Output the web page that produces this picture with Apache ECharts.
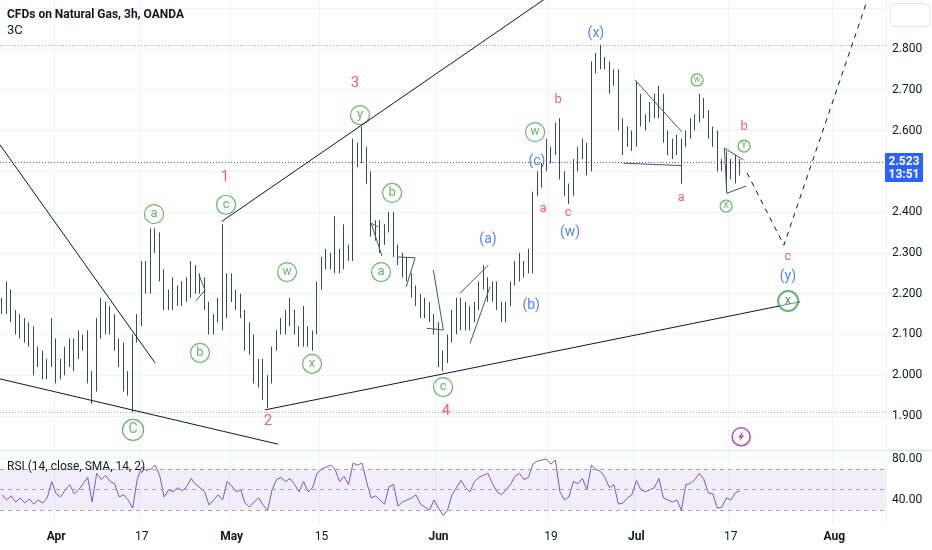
<!DOCTYPE html>
<html>
<head>
<meta charset="utf-8">
<script src="https://cdn.jsdelivr.net/npm/echarts@6/dist/echarts.min.js"></script>
<style>
  html, body { margin: 0; padding: 0; background: #fff; }
  #chart { width: 932px; height: 550px; }
</style>
</head>
<body>
<div id="chart"></div>
<script>
// one slot = half a trading session (two candles per day)
const slotCount = 197;

// time axis labels: [slot, text, isMonth]
const tickLabels = [
  [12, 'Apr', true], [31, '17', false], [51, 'May', true], [71, '15', false],
  [97, 'Jun', true], [122, '19', false], [141, 'Jul', true], [162, '17', false], [185, 'Aug', true]
];

// candles: [open, close, low, high]
const candles = [
  [2.17,2.18,2.15,2.19],[2.18,2.20,2.15,2.23],[2.20,2.15,2.13,2.21],[2.15,2.12,2.10,2.16],[2.12,2.13,2.09,2.15],
  [2.13,2.10,2.08,2.14],[2.10,2.11,2.07,2.13],[2.11,2.05,2.00,2.12],[2.05,2.04,2.02,2.07],[2.04,2.02,1.99,2.06],
  [2.02,2.03,1.99,2.04],[2.03,2.08,2.02,2.14],[2.08,2.01,1.98,2.09],[2.01,2.02,1.99,2.04],[2.02,2.06,2.00,2.07],
  [2.06,2.05,2.02,2.09],[2.05,2.07,2.01,2.09],[2.07,2.10,2.04,2.11],[2.10,2.08,2.06,2.10],[2.08,2.00,1.98,2.11],
  [2.00,1.97,1.93,2.01],[1.97,2.12,1.96,2.14],[2.12,2.10,2.09,2.19],[2.10,2.16,2.10,2.18],[2.16,2.13,2.10,2.17],
  [2.13,2.08,2.06,2.15],[2.08,2.05,2.02,2.09],[2.05,1.98,1.96,2.08],[1.98,1.99,1.95,2.01],[1.99,2.09,1.91,2.10],
  [2.09,2.13,2.08,2.15],[2.13,2.25,2.12,2.28],[2.25,2.21,2.20,2.28],[2.21,2.32,2.20,2.36],[2.32,2.34,2.30,2.36],
  [2.34,2.25,2.23,2.35],[2.25,2.18,2.16,2.26],[2.18,2.20,2.16,2.21],[2.20,2.17,2.16,2.24],[2.17,2.19,2.17,2.22],
  [2.19,2.21,2.17,2.23],[2.21,2.19,2.18,2.24],[2.19,2.27,2.19,2.28],[2.27,2.22,2.20,2.27],[2.22,2.24,2.20,2.25],
  [2.24,2.18,2.16,2.24],[2.18,2.13,2.10,2.18],[2.13,2.14,2.10,2.15],[2.14,2.18,2.13,2.19],[2.18,2.14,2.11,2.37],
  [2.14,2.22,2.14,2.25],[2.22,2.19,2.18,2.25],[2.19,2.17,2.16,2.21],[2.17,2.16,2.14,2.20],[2.16,2.08,2.06,2.16],
  [2.08,2.10,2.05,2.13],[2.10,2.01,1.98,2.10],[2.01,2.03,1.97,2.04],[2.03,1.96,1.94,2.04],[1.96,1.99,1.92,2.00],
  [1.99,2.06,1.98,2.07],[2.06,2.10,2.06,2.11],[2.10,2.13,2.10,2.14],[2.13,2.12,2.10,2.16],[2.12,2.15,2.12,2.19],
  [2.15,2.12,2.10,2.16],[2.12,2.09,2.07,2.12],[2.09,2.10,2.07,2.17],[2.10,2.09,2.07,2.12],[2.09,2.10,2.06,2.11],
  [2.10,2.21,2.10,2.23],[2.21,2.27,2.21,2.29],[2.27,2.29,2.26,2.31],[2.29,2.28,2.26,2.30],[2.28,2.26,2.25,2.39],
  [2.26,2.28,2.25,2.31],[2.28,2.31,2.26,2.37],[2.31,2.29,2.28,2.32],[2.29,2.57,2.28,2.58],[2.57,2.54,2.51,2.57],
  [2.54,2.55,2.52,2.61],[2.55,2.49,2.47,2.56],[2.49,2.36,2.34,2.50],[2.36,2.37,2.33,2.38],[2.37,2.33,2.30,2.38],
  [2.33,2.36,2.32,2.37],[2.36,2.39,2.35,2.40],[2.39,2.32,2.29,2.40],[2.32,2.29,2.27,2.32],[2.29,2.27,2.24,2.30],
  [2.27,2.24,2.23,2.29],[2.24,2.21,2.19,2.25],[2.21,2.19,2.17,2.22],[2.19,2.15,2.14,2.20],[2.15,2.17,2.14,2.19],
  [2.17,2.14,2.13,2.18],[2.14,2.12,2.10,2.15],[2.12,2.04,2.02,2.13],[2.04,2.05,2.01,2.06],[2.05,2.09,2.03,2.10],
  [2.09,2.14,2.08,2.16],[2.14,2.12,2.10,2.19],[2.12,2.16,2.11,2.19],[2.16,2.12,2.11,2.18],[2.12,2.14,2.11,2.17],
  [2.14,2.17,2.13,2.18],[2.17,2.21,2.16,2.23],[2.21,2.22,2.21,2.27],[2.22,2.19,2.18,2.24],[2.19,2.21,2.18,2.23],
  [2.21,2.16,2.16,2.23],[2.16,2.15,2.13,2.18],[2.15,2.17,2.13,2.18],[2.17,2.22,2.17,2.23],[2.22,2.26,2.22,2.28],
  [2.26,2.24,2.23,2.30],[2.24,2.26,2.24,2.28],[2.26,2.28,2.25,2.31],[2.28,2.44,2.25,2.45],[2.44,2.48,2.44,2.50],
  [2.48,2.50,2.46,2.52],[2.50,2.55,2.50,2.58],[2.55,2.54,2.52,2.56],[2.54,2.60,2.54,2.62],[2.60,2.50,2.48,2.63],
  [2.50,2.45,2.44,2.50],[2.45,2.44,2.42,2.47],[2.44,2.51,2.44,2.53],[2.51,2.55,2.50,2.56],[2.55,2.56,2.53,2.58],
  [2.56,2.51,2.49,2.57],[2.51,2.74,2.50,2.77],[2.74,2.77,2.74,2.79],[2.77,2.78,2.75,2.81],[2.78,2.76,2.75,2.78],
  [2.76,2.71,2.69,2.77],[2.71,2.74,2.71,2.75],[2.74,2.63,2.60,2.75],[2.63,2.56,2.54,2.63],[2.56,2.59,2.56,2.61],
  [2.59,2.57,2.55,2.60],[2.57,2.68,2.56,2.72],[2.68,2.63,2.61,2.69],[2.63,2.62,2.60,2.64],[2.62,2.66,2.62,2.67],
  [2.66,2.64,2.63,2.69],[2.64,2.69,2.63,2.71],[2.69,2.58,2.57,2.69],[2.58,2.56,2.54,2.60],[2.56,2.57,2.53,2.58],
  [2.57,2.55,2.54,2.59],[2.55,2.57,2.47,2.58],[2.57,2.59,2.56,2.60],[2.59,2.62,2.58,2.63],[2.62,2.63,2.60,2.64],
  [2.63,2.67,2.62,2.69],[2.67,2.65,2.63,2.68],[2.65,2.59,2.58,2.65],[2.59,2.60,2.56,2.61],[2.60,2.52,2.50,2.60],
  [2.52,2.51,2.50,2.53],[2.51,2.48,2.45,2.55],[2.48,2.52,2.48,2.53],[2.52,2.49,2.47,2.54],[2.49,2.523,2.49,2.53]
];

// RSI (14) per slot
const rsiValues = [
  45,40,44,38,42,37,41,36,40,37, 42,58,46,43,50,55,46,50,56,62,
  38,66,60,64,58,56,43,45,40,32, 60,72,69,70,74,64,43,50,48,52,
  49,53,61,55,52,48,35,40,45,40, 58,54,48,50,37,33,38,42,35,30,
  50,60,62,58,61,55,48,58,48,52, 66,70,72,74,70,58,63,55,76,74,
  76,58,42,44,40,36,53,55,34,38, 40,42,45,36,33,30,40,32,25,30,
  45,52,59,52,48,58,62,64,66,56, 48,45,50,55,63,66,60,62,75,78,
  79,80,75,79,48,40,43,58,56,61, 50,74,70,68,62,52,55,36,37,42,
  45,59,50,48,50,52,61,42,40,38, 40,30,55,56,60,66,60,47,46,32,
  33,42,40,47,49
];

// drawings in [slot, price]
const trendLines = [
  [[-0.5, 2.565], [34.0, 2.030]],
  [[-0.5, 1.991], [61.3, 1.831]],
  [[48.8, 2.377], [122.0, 2.933]],
  [[58.4, 1.915], [177.4, 2.180]]
];
const projection = [[165.6, 2.496], [173.8, 2.319], [192.8, 2.935]];
const shapeLines = [
  [[43.75, 2.246], [45.09, 2.209], [43.08, 2.182]],
  [[83.56, 2.364], [82.0, 2.373], [84.45, 2.292]],
  [[88.0, 2.290], [91.8, 2.288], [89.8, 2.216]],
  [[95.85, 2.258], [98.08, 2.111], [94.39, 2.115]],
  [[101.79, 2.201], [108.08, 2.270]],
  [[104.01, 2.078], [108.46, 2.217]],
  [[140.7, 2.724], [151.09, 2.597]],
  [[138.1, 2.520], [151.09, 2.514]],
  [[165.39, 2.464], [161.1, 2.446], [160.56, 2.557], [164.79, 2.528]]
];
const levelLines = [2.81, 1.91];

// wave labels: [slot, price, text, fontSize]
const redLabels = [
  [49.53, 2.486, '1', 15], [59.1, 1.888, '2', 15], [78.44, 2.717, '3', 15], [98.68, 1.912, '4', 15],
  [123.6, 2.675, 'b', 13], [120.25, 2.408, 'a', 13], [125.8, 2.398, 'c', 13],
  [150.94, 2.435, 'a', 13], [164.94, 2.609, 'b', 13], [174.7, 2.290, 'c', 13]
];
const blueLabels = [
  [108.0, 2.332, '(a)', 14], [117.6, 2.170, '(b)', 14], [118.9, 2.523, '(c)', 14],
  [126.25, 2.349, '(w)', 14], [132.0, 2.839, '(x)', 14], [174.7, 2.243, '(y)', 14]
];
// circled labels: [slot, price, text, circleSize, fontSize]
const greenCircles = [
  [33.74, 2.395, 'a', 19, 13], [43.97, 2.055, 'b', 19, 13], [49.76, 2.418, 'c', 19, 13], [29.08, 1.866, 'C', 21, 14],
  [79.55, 2.638, 'y', 19, 13], [63.32, 2.253, 'w', 19, 12], [68.88, 2.028, 'x', 19, 13], [86.67, 2.447, 'b', 19, 13],
  [84.22, 2.253, 'a', 19, 13], [98.01, 1.971, 'c', 19, 13], [118.47, 2.596, 'w', 19, 12],
  [154.5, 2.724, 'w', 12, 9], [164.94, 2.562, 'Y', 12, 9], [160.94, 2.415, 'X', 12, 9]
];
const bigCircle = [174.73, 2.182, 'x'];
const lightningAt = [164.3, 1.849];

const FONT = 'Roboto';
const CANDLE = '#44474f';
const categories = Array.from({ length: slotCount }, (_, i) => String(i));
const labelMap = new Map(tickLabels.map(t => [t[0], t]));
const showTick = (i) => labelMap.has(i);
const lastClose = candles[candles.length - 1][1];

function textSeries(items, color) {
  return {
    type: 'scatter', xAxisIndex: 1, yAxisIndex: 0, z: 1, silent: true,
    symbolSize: 1, itemStyle: { color: 'rgba(0,0,0,0)' },
    data: items.map(d => ({ value: [d[0], d[1]], name: d[2], label: { fontSize: d[3] } })),
    label: { show: true, position: 'inside', color: color, fontFamily: FONT, formatter: p => p.name }
  };
}

// horizontal price lines across the whole pane
function priceLines(values, color) {
  return {
    type: 'lines', coordinateSystem: 'cartesian2d', xAxisIndex: 1, yAxisIndex: 0, z: 2, silent: true,
    lineStyle: { color: color, type: [1, 2], width: 1, opacity: 1 },
    data: values.map(v => ({ coords: [[-0.5, v], [slotCount - 0.5, v]] }))
  };
}

function drawLines(list, color, type) {
  return {
    type: 'lines', coordinateSystem: 'cartesian2d', xAxisIndex: 1, yAxisIndex: 0, polyline: true, z: 3, silent: true,
    lineStyle: { color: color, width: 1, opacity: 1, type: type || 'solid' },
    data: list.map(c => ({ coords: c }))
  };
}

var chart = echarts.init(document.getElementById('chart'));

chart.setOption({
  animation: false,
  backgroundColor: '#fff',
  grid: [
    // price pane: extended past the visible area so ticks fall on round prices
    { left: 0, right: 46, top: -32.6, bottom: 93.2, outerBoundsMode: 'none' },
    { left: 0, right: 46, top: 450, bottom: 26, outerBoundsMode: 'none' }
  ],
  xAxis: [
    {
      type: 'category', gridIndex: 0, data: categories, boundaryGap: true,
      axisLine: { show: false }, axisTick: { show: false }, axisLabel: { show: false },
      splitLine: { show: true, interval: showTick, lineStyle: { color: '#f0f3fa' } }
    },
    { type: 'value', gridIndex: 0, min: -0.5, max: slotCount - 0.5, show: false },
    {
      type: 'category', gridIndex: 1, data: categories, boundaryGap: true,
      axisLine: { show: false }, axisTick: { show: false },
      splitLine: { show: true, interval: showTick, lineStyle: { color: '#f0f3fa' } },
      axisLabel: {
        interval: showTick, margin: 7, color: '#131722', fontSize: 12, fontFamily: FONT,
        formatter: (v, i) => {
          const t = labelMap.get(i);
          if (!t) return '';
          return t[2] ? '{m|' + t[1] + '}' : t[1];
        },
        rich: { m: { fontWeight: 'bold', fontSize: 12, fontFamily: FONT, color: '#131722' } }
      }
    }
  ],
  yAxis: [
    {
      type: 'value', gridIndex: 0, position: 'right', min: 1.8, max: 3.0, interval: 0.1,
      axisLine: { show: false }, axisTick: { show: false },
      splitLine: { show: true, lineStyle: { color: '#f0f3fa' } },
      axisLabel: {
        margin: 6, color: '#131722', fontSize: 12, fontFamily: FONT, align: 'left',
        formatter: v => {
          const k = Math.round(v * 10);
          return (k < 19 || k > 28 || k === 25) ? '' : v.toFixed(3);
        }
      }
    },
    {
      type: 'value', gridIndex: 1, position: 'right', min: 16.58, max: 88.78,
      axisLine: { show: false }, axisTick: { show: false }, splitLine: { show: false },
      axisLabel: {
        customValues: [40, 80], margin: 6, color: '#131722', fontSize: 12, fontFamily: FONT, align: 'left',
        formatter: v => v.toFixed(2)
      }
    }
  ],
  series: [
    textSeries(redLabels, '#f23645'),
    textSeries(blueLabels, '#2962ff'),
    {
      type: 'scatter', xAxisIndex: 1, yAxisIndex: 0, z: 1, silent: true,
      data: greenCircles.map(d => ({ value: [d[0], d[1]], name: d[2], symbolSize: d[3], label: { fontSize: d[4] } })),
      itemStyle: { color: 'rgba(255,255,255,0)', borderColor: '#43a047', borderWidth: 1.2 },
      label: { show: true, position: 'inside', color: '#43a047', fontFamily: FONT, formatter: p => p.name }
    },
    {
      type: 'scatter', xAxisIndex: 1, yAxisIndex: 0, z: 4, silent: true,
      data: [{ value: [bigCircle[0], bigCircle[1]], name: bigCircle[2] }],
      symbolSize: 20,
      itemStyle: { color: 'rgba(255,255,255,0.6)', borderColor: '#43a047', borderWidth: 2 },
      label: { show: true, position: 'inside', color: '#2e7d32', fontSize: 13, fontFamily: FONT, formatter: p => p.name }
    },
    priceLines(levelLines, '#a3a6af'),
    priceLines([lastClose], '#2962ff'),
    {
      type: 'candlestick', xAxisIndex: 0, yAxisIndex: 0, z: 2, silent: true,
      data: candles, barWidth: 1.2,
      itemStyle: { color: CANDLE, color0: CANDLE, borderColor: CANDLE, borderColor0: CANDLE, borderWidth: 1 }
    },
    drawLines(trendLines, '#131722'),
    drawLines(shapeLines, '#50535e'),
    drawLines([projection], '#131722', [5, 5]),
    {
      type: 'scatter', xAxisIndex: 1, yAxisIndex: 0, z: 3, silent: true,
      data: [
        { value: lightningAt, symbol: 'circle', symbolSize: 18,
          itemStyle: { color: 'rgba(0,0,0,0)', borderColor: '#9c27b0', borderWidth: 1.6 } },
        { value: lightningAt, symbol: 'path://M7,0 L1,10 L5,10 L3,17 L10,6 L6,6 L8,0 Z', symbolSize: [6, 10],
          itemStyle: { color: '#9c27b0' } }
      ]
    },
    {
      type: 'line', xAxisIndex: 2, yAxisIndex: 1, data: rsiValues, showSymbol: false, silent: true,
      lineStyle: { color: '#7e57c2', width: 1 },
      markArea: {
        silent: true, itemStyle: { color: 'rgba(126,87,194,0.1)' },
        data: [[{ yAxis: 30 }, { yAxis: 70 }]]
      },
      markLine: {
        silent: true, symbol: 'none', label: { show: false },
        lineStyle: { color: '#a3a6af', type: [4, 4], width: 1, opacity: 1 },
        data: [{ yAxis: 70 }, { yAxis: 50 }, { yAxis: 30 }]
      }
    }
  ],
  graphic: [
    { id: 'title', type: 'text', x: 7, y: 15, z: 20,
      style: { text: 'CFDs on Natural Gas, 3h, OANDA', fill: '#131722', fontSize: 12, fontWeight: 'bold', fontFamily: FONT, verticalAlign: 'middle' } },
    { id: 'sub', type: 'text', x: 7, y: 31, z: 20,
      style: { text: '3C', fill: '#131722', fontSize: 13, fontFamily: FONT, verticalAlign: 'middle' } },
    { id: 'rsiTitle', type: 'text', x: 7, y: 467, z: 20,
      style: { text: 'RSI (14, close, SMA, 14, 2)', fill: '#131722', fontSize: 12, fontFamily: FONT, verticalAlign: 'middle' } },
    { id: 'sep', type: 'line', z: 20, shape: { x1: 0, y1: 450.5, x2: 932, y2: 450.5 }, style: { stroke: '#e0e3eb', lineWidth: 1 } },
    { id: 'corner', type: 'rect', z: 20, shape: { x: 890, y: 3.5, width: 40, height: 23, r: 5 }, style: { fill: '#fff', stroke: '#e0e3eb', lineWidth: 1 } }
  ]
});

// last price tag on the price scale
const tagY = chart.convertToPixel({ yAxisIndex: 0 }, lastClose);
chart.setOption({
  graphic: [
    { id: 'tagBox', type: 'rect', z: 21, shape: { x: 885, y: tagY - 9, width: 38, height: 29, r: 1 }, style: { fill: '#2962ff' } },
    { id: 'tagPrice', type: 'text', z: 22, x: 904, y: tagY + 0.5,
      style: { text: lastClose.toFixed(3), fill: '#fff', fontSize: 12, fontWeight: 'bold', fontFamily: FONT, align: 'center', verticalAlign: 'middle' } },
    { id: 'tagTime', type: 'text', z: 22, x: 904, y: tagY + 13,
      style: { text: '13:51', fill: '#fff', fontSize: 12, fontWeight: 'bold', fontFamily: FONT, align: 'center', verticalAlign: 'middle' } }
  ]
});

window.addEventListener('resize', function () {
  chart.resize();
});
</script>
</body>
</html>
